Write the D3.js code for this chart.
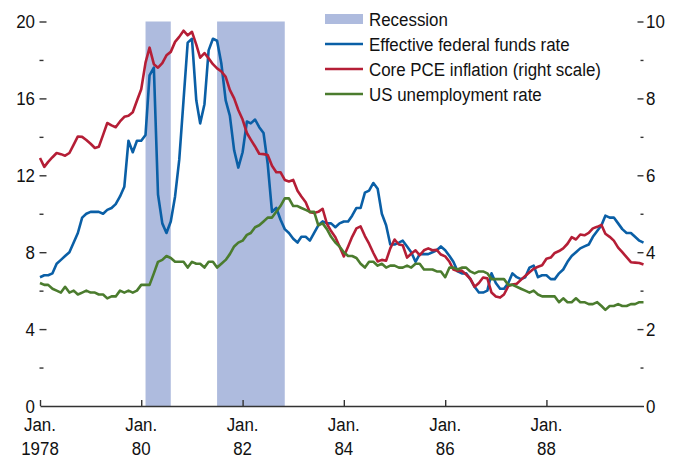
<!DOCTYPE html>
<html>
<head>
<meta charset="utf-8">
<script src="https://cdn.jsdelivr.net/npm/d3@7"></script>
<style>
  html, body { margin: 0; padding: 0; background: #fff; }
  svg text { font-family: "Liberation Sans", Arial, sans-serif; font-size: 19px; fill: #111; }
</style>
</head>
<body>
<svg id="chart" width="683" height="458"></svg>
<script>
// ---- DATA (monthly, Jan 1978 – Dec 1989) ----
const startMonth = "1978-01";
const fedFunds = [
  6.7,6.8,6.8,6.9,7.4,7.6,7.8,8.0,8.5,9.0,9.8,10.0,
  10.1,10.1,10.1,10.0,10.2,10.3,10.5,10.9,11.4,13.8,13.2,13.8,
  13.8,14.1,17.2,17.6,11.0,9.5,9.0,9.6,10.9,12.8,15.9,18.9,
  19.1,15.9,14.7,15.7,18.5,19.1,19.0,17.8,15.9,15.1,13.3,12.4,
  13.2,14.8,14.7,14.9,14.5,14.2,12.6,10.1,10.3,9.7,9.2,9.0,
  8.7,8.5,8.8,8.8,8.6,9.0,9.4,9.6,9.5,9.5,9.3,9.5,
  9.6,9.6,9.9,10.3,10.3,11.1,11.2,11.6,11.3,10.0,9.4,8.4,
  8.4,8.5,8.6,8.3,8.0,7.5,7.9,7.9,7.9,8.0,8.1,8.3,
  8.1,7.8,7.5,7.0,6.9,6.9,6.6,6.2,5.9,5.9,6.0,6.9,
  6.4,6.1,6.1,6.4,6.9,6.7,6.6,6.7,7.2,7.3,6.7,6.8,
  6.8,6.6,6.6,6.9,7.1,7.5,7.8,8.0,8.2,8.3,8.4,8.8,
  9.1,9.4,9.9,9.8,9.8,9.5,9.2,9.0,9.0,8.8,8.6,8.5
];
const corePCE = [
  6.45,6.22,6.35,6.47,6.58,6.55,6.51,6.58,6.80,7.01,7.00,6.92,
  6.82,6.71,6.74,7.05,7.36,7.30,7.25,7.40,7.52,7.55,7.64,7.94,
  8.24,8.93,9.32,8.89,8.80,8.92,9.12,9.21,9.47,9.60,9.76,9.64,
  9.73,9.40,9.06,9.18,9.04,8.89,8.78,8.70,8.56,8.22,8.00,7.70,
  7.45,7.10,6.93,6.75,6.56,6.55,6.53,6.25,6.08,6.08,5.88,5.84,
  5.88,5.60,5.45,5.30,5.04,5.02,5.05,5.13,4.74,4.55,4.39,4.15,
  3.89,4.15,4.40,4.62,4.67,4.42,4.22,3.98,3.76,3.80,3.78,4.10,
  4.33,4.20,4.18,3.86,3.96,4.05,3.92,4.05,4.10,4.05,4.06,3.94,
  3.89,3.75,3.55,3.51,3.52,3.42,3.31,3.10,3.20,3.34,3.32,2.95,
  2.85,2.82,2.90,3.12,3.16,3.18,3.28,3.38,3.48,3.57,3.62,3.66,
  3.83,3.86,3.98,4.03,4.10,4.22,4.39,4.33,4.46,4.44,4.50,4.62,
  4.66,4.71,4.48,4.40,4.30,4.12,4.00,3.87,3.74,3.73,3.72,3.68
];
const unemployment = [
  6.4,6.3,6.3,6.1,6.0,5.9,6.2,5.9,6.0,5.8,5.9,6.0,
  5.9,5.9,5.8,5.8,5.6,5.7,5.7,6.0,5.9,6.0,5.9,6.0,
  6.3,6.3,6.3,6.9,7.5,7.6,7.8,7.7,7.5,7.5,7.5,7.2,
  7.5,7.4,7.4,7.2,7.5,7.5,7.2,7.4,7.6,7.9,8.3,8.5,
  8.6,8.9,9.0,9.3,9.4,9.6,9.8,9.8,10.1,10.4,10.8,10.8,
  10.4,10.4,10.3,10.2,10.1,10.1,9.4,9.5,9.2,8.8,8.5,8.3,
  8.0,7.8,7.8,7.7,7.4,7.2,7.5,7.5,7.3,7.4,7.2,7.3,
  7.3,7.2,7.2,7.3,7.2,7.4,7.4,7.1,7.1,7.1,7.0,7.0,
  6.7,7.2,7.2,7.1,7.2,7.2,7.0,6.9,7.0,7.0,6.9,6.6,
  6.6,6.6,6.6,6.3,6.3,6.2,6.1,6.0,5.9,6.0,5.8,5.7,
  5.7,5.7,5.7,5.4,5.6,5.4,5.4,5.6,5.4,5.4,5.3,5.3,
  5.4,5.2,5.0,5.2,5.2,5.3,5.2,5.2,5.3,5.3,5.4,5.4
];
const recessionStarts = ["1980-02", "1981-07"];
const recessionEnds   = ["1980-08", "1982-11"];
const xTickDates  = ["1978-01","1980-01","1982-01","1984-01","1986-01","1988-01"];
const xTickYears  = ["1978","80","82","84","86","88"];
const leftTicks   = [0,4,8,12,16,20];
const leftMinor   = [2,6,10,14,18];
const rightTicks  = [0,2,4,6,8,10];
const rightMinor  = [1,3,5,7,9];
const legendLabels = ["Recession","Effective federal funds rate","Core PCE inflation (right scale)","US unemployment rate"];

// ---- SETUP ----
const parse = d3.timeParse("%Y-%m");
const t0 = parse(startMonth);
const dates = fedFunds.map((_, i) => d3.timeMonth.offset(t0, i));

const colors = { fed: "#0a5fa6", pce: "#b51e36", unemp: "#4b7c2e", rec: "#aebbde", axis: "#333" };
const SX = 0.89; // horizontal condensing of text (narrow typeface look)
function condense(sel) {
  sel.each(function () {
    const xa = +(this.getAttribute("x") || 0);
    this.setAttribute("transform", `matrix(${SX},0,0,1,${xa * (1 - SX)},0)`);
  });
}

const svg = d3.select("#chart");
const x = d3.scaleTime().domain([t0, parse("1989-12")]).range([40, 643.5]);
const yL = d3.scaleLinear().domain([0, 20]).range([406, 21.5]);
const yR = d3.scaleLinear().domain([0, 10]).range([406, 21.5]);

// recessions
svg.append("g").selectAll("rect").data(recessionStarts).join("rect")
  .attr("x", (d) => x(parse(d)))
  .attr("width", (d, i) => x(parse(recessionEnds[i])) - x(parse(d)))
  .attr("y", yL(20))
  .attr("height", yL(0) - yL(20))
  .attr("fill", colors.rec);

// lines
const lineL = d3.line().x((d, i) => x(dates[i])).y(d => yL(d));
const lineR = d3.line().x((d, i) => x(dates[i])).y(d => yR(d));
const lw = 2.6;
svg.append("path").datum(fedFunds).attr("d", lineL).attr("fill","none").attr("stroke", colors.fed).attr("stroke-width", lw).attr("stroke-linejoin","round");
svg.append("path").datum(corePCE).attr("d", lineR).attr("fill","none").attr("stroke", colors.pce).attr("stroke-width", lw).attr("stroke-linejoin","round");
svg.append("path").datum(unemployment).attr("d", lineL).attr("fill","none").attr("stroke", colors.unemp).attr("stroke-width", lw).attr("stroke-linejoin","round");

// axes helpers
function styleAxis(g) {
  g.select(".domain").remove();
  g.selectAll("line").attr("stroke", colors.axis).attr("stroke-width", 1.4);
  g.selectAll("text").attr("fill", "#111").attr("font-size", null).attr("font-family", null).call(condense);
}

// left ticks
svg.append("g").attr("transform","translate(39.5,0)")
  .call(d3.axisRight(yL).tickValues(leftTicks.filter(v => v > 0)).tickSize(7).tickFormat(""))
  .call(styleAxis);
svg.append("g").attr("transform","translate(39.5,0)")
  .call(d3.axisRight(yL).tickValues(leftMinor).tickSize(4).tickFormat(""))
  .call(styleAxis);
svg.append("g").attr("transform","translate(35,0)")
  .call(d3.axisLeft(yL).tickValues(leftTicks).tickSize(0).tickPadding(0).tickFormat(d3.format("d")))
  .call(styleAxis);

// right ticks
svg.append("g").attr("transform","translate(643.5,0)")
  .call(d3.axisLeft(yR).tickValues(rightTicks.filter(v => v > 0)).tickSize(6).tickFormat(""))
  .call(styleAxis);
svg.append("g").attr("transform","translate(643.5,0)")
  .call(d3.axisLeft(yR).tickValues(rightMinor).tickSize(3).tickFormat(""))
  .call(styleAxis);
svg.append("g").attr("transform","translate(646,0)")
  .call(d3.axisRight(yR).tickValues(rightTicks).tickSize(0).tickPadding(0).tickFormat(d3.format("d")))
  .call(styleAxis);

// x axis
const xa = svg.append("g").attr("transform","translate(0,406)")
  .call(d3.axisBottom(x).tickValues(xTickDates.map(parse)).tickSize(-6).tickSizeOuter(0).tickFormat(""));
xa.select(".domain").attr("stroke", colors.axis).attr("stroke-width", 1.4);
xa.selectAll("line").attr("stroke", colors.axis).attr("stroke-width", 1.4);

const xl = svg.append("g").selectAll("text").data(xTickDates).join("text")
  .attr("text-anchor","middle")
  .attr("x", d => x(parse(d)));
xl.append("tspan").attr("x", d => x(parse(d))).attr("y", 431).text("Jan.");
xl.append("tspan").attr("x", d => x(parse(d))).attr("y", 455).text((d, i) => xTickYears[i]);
xl.call(condense);

// legend
const lg = svg.append("g").attr("transform","translate(325,19)");
const rowH = 25;
lg.append("rect").attr("x",0).attr("y",-5).attr("width",38).attr("height",10).attr("fill",colors.rec);
const lineColors = [colors.fed, colors.pce, colors.unemp];
lg.selectAll("line.lg").data(lineColors).join("line")
  .attr("x1",0).attr("x2",38)
  .attr("y1",(d,i)=> (i+1)*rowH).attr("y2",(d,i)=> (i+1)*rowH)
  .attr("stroke", d => d).attr("stroke-width", lw);
lg.selectAll("text").data(legendLabels).join("text")
  .attr("x", 44).attr("y", (d,i)=> i*rowH).attr("dy","0.36em").text(d => d)
  .call(condense);
</script>
</body>
</html>
